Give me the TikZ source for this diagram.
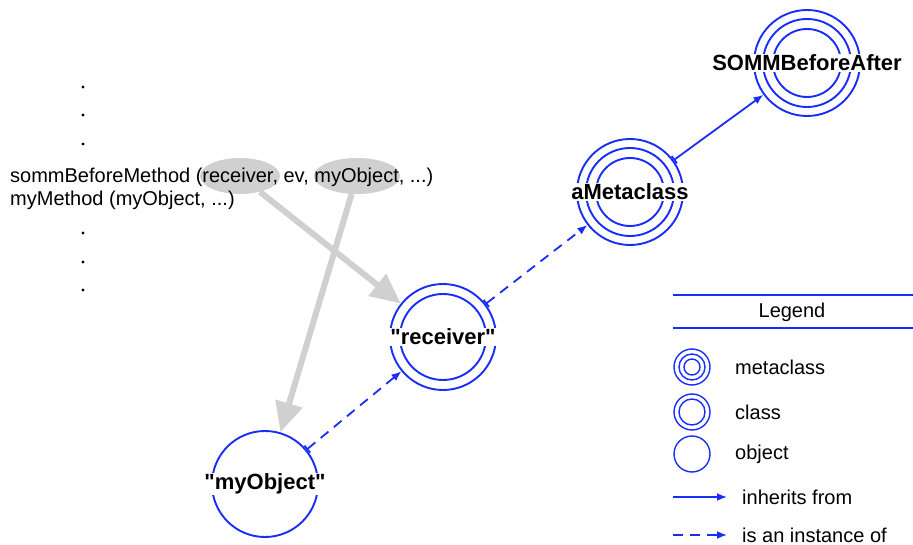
\documentclass[tikz,border=0pt]{standalone}
\usepackage{fontspec}
\setmainfont{Liberation Sans}[Ligatures=TeXOff]
\usetikzlibrary{arrows.meta,shapes.geometric}
\definecolor{sombl}{RGB}{25,45,250}
\definecolor{argray}{RGB}{208,208,208}
\begin{document}
\begin{tikzpicture}[x=1pt,y=-1pt,
	ring/.style={circle,draw=sombl,line width=1.9pt,minimum size=106pt,inner sep=0pt},
	key/.style={circle,draw=sombl,line width=1.4pt,minimum size=36pt,inner sep=0pt},
	ringtext/.style={fill=white,inner sep=1pt,font=\fontsize{22}{26}\selectfont\bfseries},
	txt/.style={inner sep=0pt,font=\fontsize{20}{23}\selectfont},
	inh/.style={draw=sombl,line width=1.8pt,-{Latex[length=10pt,width=8pt]}},
	inst/.style={inh,dash pattern=on 10pt off 7pt},
	pass/.style={draw=argray,line width=6pt,-{Triangle[length=30pt,width=27pt]}},
	arg/.style={ellipse,fill=argray,inner sep=0pt}]
	\useasboundingbox (0,0) rectangle (913,545);
	% the calls
	\node[arg,minimum width=80pt,minimum height=36pt] (recvarg) at (240,176) {};
	\node[arg,minimum width=86pt,minimum height=36pt] (objarg) at (357,176) {};
	\foreach \y in {87,115,144,233,262,290}
		\fill (83,\y) circle (1.6pt);
	% the objects
	\node[ring] (myobj) at (265,484) {};
	\node[ring] (recv) at (443,337) {};
	\draw[sombl,line width=1.9pt] (recv) circle (43pt);
	\node[ring] (meta) at (630,192) {};
	\draw[sombl,line width=1.9pt] (meta) circle (44pt) (meta) circle (34pt);
	\node[ring] (somm) at (807,63) {};
	\draw[sombl,line width=1.9pt] (somm) circle (44pt) (somm) circle (34pt);
	\draw[pass] (recvarg) -- (recv);
	\draw[pass] (objarg) -- (myobj);
	\draw[inst,{Bar[width=9pt]}-{Latex[length=10pt,width=8pt]}] (myobj) -- (recv);
	\draw[inst,{Bar[width=9pt]}-{Latex[length=10pt,width=8pt]}] (recv) -- (meta);
	\draw[inh,{Bar[width=9pt]}-{Latex[length=10pt,width=8pt]}] (meta) -- (somm);
	\node[txt,anchor=west] (call) at (10,177) {sommBeforeMethod (receiver, ev, myObject, ...)};
	\node[txt,anchor=west] (meth) at (10,200) {myMethod (myObject, ...)};
	\node[ringtext] (myobjtext) at (myobj) {"myObject"};
	\node[ringtext] (recvtext) at (recv) {"receiver"};
	\node[ringtext] (metatext) at (meta) {aMetaclass};
	\node[ringtext] (sommtext) at (somm) {SOMMBeforeAfter};
	% legend
	\draw[sombl,line width=1.4pt] (673,295) -- (913,295) (673,328) -- (913,328);
	\node[txt] (legend) at (792,312) {Legend};
	\node[key] (kmeta) at (692,367) {};
	\draw[sombl,line width=1.4pt] (kmeta) circle (13pt) (kmeta) circle (8pt);
	\node[key] (kclass) at (692,412) {};
	\draw[sombl,line width=1.4pt] (kclass) circle (13pt);
	\node[key] (kobj) at (692,454) {};
	\node[txt,anchor=west] (kmetatext) at (735,367) {metaclass};
	\node[txt,anchor=west] (kclasstext) at (735,412) {class};
	\node[txt,anchor=west] (kobjtext) at (735,454) {object};
	\coordinate (inha) at (673,497);
	\coordinate (inhb) at (727,497);
	\draw[inh] (inha) -- (inhb);
	\node[txt,anchor=west] (inhtext) at (742,497) {inherits from};
	\coordinate (insta) at (673,535);
	\coordinate (instb) at (727,535);
	\draw[inst] (insta) -- (instb);
	\node[txt,anchor=west] (insttext) at (742,535) {is an instance of};
\end{tikzpicture}
\end{document}
